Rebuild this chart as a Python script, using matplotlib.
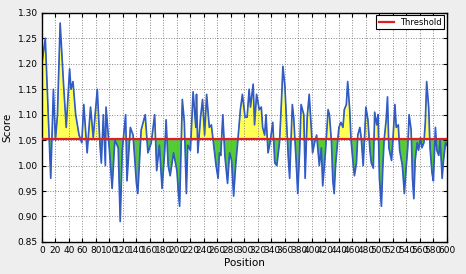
import matplotlib
matplotlib.use("Agg")
import matplotlib.pyplot as plt
import numpy as np

threshold = 1.052

positions = [0, 5, 7, 13, 17, 20, 23, 27, 30, 32, 36, 41, 43, 46, 50, 55, 59, 62, 67, 72, 76, 82, 86, 88, 91, 94, 95,
             100, 104, 108, 113, 116, 119, 124, 126, 131, 135, 140, 142, 147, 153, 157, 162, 167, 170, 174, 178,
             182, 184, 187, 190, 195, 200, 202, 204, 208, 211, 214, 216, 220, 224, 228, 229, 231, 235, 238, 241,
             244, 248, 251, 254, 258, 261, 263, 265, 268, 271, 275, 278, 281, 284, 287, 290, 294, 297, 301, 304,
             307, 309, 313, 315, 318, 322, 325, 327, 330, 332, 335, 338, 342, 345, 348, 352, 355, 357, 360, 362,
             365, 367, 371, 373, 377, 379, 382, 384, 388, 390, 393, 396, 399, 401, 404, 407, 411, 414, 416, 420,
             424, 426, 429, 431, 433, 435, 437, 440, 443, 446, 448, 451, 453, 456, 458, 461, 463, 466, 468, 471,
             473, 476, 478, 480, 483, 486, 488, 491, 493, 496, 498, 500, 503, 505, 507, 510, 512, 514, 518, 520,
             523, 525, 528, 530, 534, 537, 539, 542, 544, 547, 549, 551, 553, 556, 558, 561, 563, 566, 568, 570,
             573, 575, 578, 580, 583, 585, 588, 590, 593, 595, 598, 600]
scores = [1.20, 1.25, 1.18, 0.975, 1.15, 1.05, 1.10, 1.28, 1.21, 1.16, 1.075, 1.19, 1.15, 1.165, 1.10, 1.06, 1.045,
          1.12, 1.025, 1.115, 1.055, 1.15, 1.04, 1.005, 1.10, 1.00, 1.115,
          1.03, 0.955, 1.05, 1.035, 0.89, 1.03, 1.10, 0.97, 1.075, 1.06, 0.965, 0.945, 1.07, 1.10, 1.025, 1.045,
          1.10, 0.99, 1.04, 0.955,
          1.03, 1.09, 1.00, 0.98, 1.025, 0.99, 0.95, 0.92, 1.13, 1.085, 0.945, 1.04, 1.03, 1.145, 1.075, 1.14,
          1.025, 1.095, 1.13, 1.06,
          1.14, 1.075, 1.08, 1.045, 1.00, 0.975, 1.025, 1.02, 1.10, 1.02, 0.965, 1.025, 1.01, 0.94, 1.00, 1.045,
          1.11, 1.14, 1.095, 1.095,
          1.15, 1.115, 1.16, 1.08, 1.14, 1.11, 1.115, 1.075, 1.06, 1.10, 1.025, 1.045, 1.085, 1.005, 1.00, 1.045,
          1.13, 1.195, 1.155, 1.10,
          1.015, 0.975, 1.12, 1.095, 1.00, 0.945, 1.035, 1.12, 1.10, 0.975, 1.095, 1.14, 1.075, 1.025, 1.045,
          1.06, 1.00, 1.035, 0.96, 1.025,
          1.11, 1.10, 1.045, 0.97, 0.945, 1.00, 1.03, 1.075, 1.085, 1.075, 1.11, 1.12, 1.165, 1.11, 1.05, 1.005,
          0.98, 1.005, 1.06, 1.075,
          1.055, 1.00, 1.055, 1.115, 1.09, 1.03, 1.005, 0.995, 1.105, 1.08, 1.10, 0.975, 0.92, 0.995, 1.05, 1.09,
          1.135, 1.035, 1.01, 1.05,
          1.12, 1.075, 1.08, 1.03, 1.00, 0.945, 0.985, 1.035, 1.10, 1.07, 0.975, 0.935, 1.01, 1.045, 1.03, 1.055,
          1.035, 1.045, 1.085, 1.165,
          1.115, 1.035, 0.985, 0.97, 1.075, 1.03, 1.02, 1.05, 0.975, 1.01, 1.045, 1.04]

x = np.array(positions, dtype=float)
y = np.array(scores, dtype=float)

fig = plt.figure(figsize=(4.66, 2.74), dpi=100, facecolor="#eeeeee")
ax = fig.add_axes([0.090, 0.117, 0.869, 0.836])
ax.set_facecolor("white")

ax.fill_between(x, y, threshold, where=y >= threshold, interpolate=True,
                facecolor="#ffff55", edgecolor="none", zorder=1)
ax.fill_between(x, y, threshold, where=y <= threshold, interpolate=True,
                facecolor="#55cc33", edgecolor="none", zorder=1)
ax.plot(x, y, color="#2255dd", lw=1.2, zorder=2)
ax.plot(x, y, color="#556688", lw=0.4, alpha=0.7, zorder=2.5)
ax.axhline(threshold, color="#e02020", lw=1.6, label="Threshold", zorder=3)

ax.set_xlim(0, 600)
ax.set_ylim(0.85, 1.30)
ax.set_xticks(np.arange(0, 601, 20))
ax.set_yticks(np.arange(0.85, 1.301, 0.05))
ax.set_yticklabels([f"{v:.2f}" for v in np.arange(0.85, 1.301, 0.05)])
ax.tick_params(direction="in", top=True, right=True, labelsize=6.5, length=3, pad=3)
ax.grid(True, linestyle=":", color="#888888", lw=0.7)
for s in ax.spines.values():
    s.set_linewidth(1.0)
    s.set_color("black")

ax.set_xlabel("Position", fontsize=7.5, labelpad=2)
ax.set_ylabel("Score", fontsize=7.5, labelpad=4)

leg = ax.legend(loc="upper right", fontsize=6, fancybox=False, framealpha=1,
                edgecolor="black", borderpad=0.3, handlelength=1.8,
                borderaxespad=0.3)
leg.get_frame().set_linewidth(0.8)

fig.savefig("out.png", dpi=100, facecolor=fig.get_facecolor())
